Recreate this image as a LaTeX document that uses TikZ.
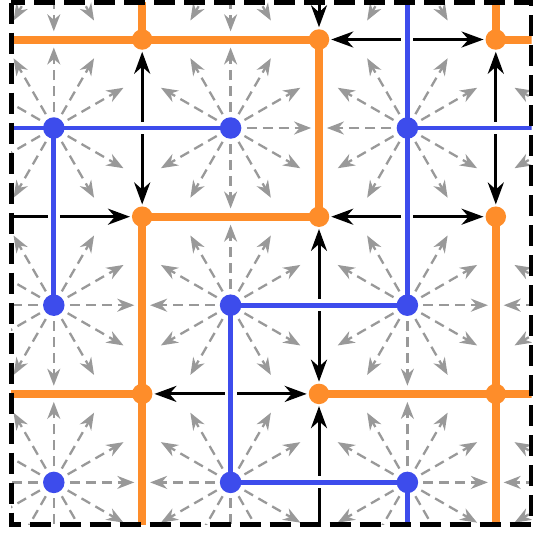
\documentclass[tikz,border=0pt]{standalone}
\usetikzlibrary{arrows.meta}
\definecolor{cblue}{RGB}{61,76,236}
\definecolor{corange}{RGB}{254,141,42}
\definecolor{cgray}{RGB}{153,153,153}
\pgfdeclarelayer{lgray}
\pgfdeclarelayer{lblack}
\pgfdeclarelayer{lblue}
\pgfdeclarelayer{lorange}
\pgfsetlayers{lgray,lblack,lblue,lorange,main}
\newcommand\skipdir[3]{\expandafter\gdef\csname skp-#1-#2-#3\endcsname{}}
\skipdir{-1}{0}{0}
\skipdir{0}{0}{180}
\skipdir{0}{0}{0}
\skipdir{1}{0}{180}
\skipdir{0}{0}{270}
\skipdir{0}{1}{90}
\skipdir{2}{0}{0}
\skipdir{3}{0}{180}
\skipdir{2}{-1}{270}
\skipdir{2}{0}{90}
\skipdir{2}{0}{270}
\skipdir{2}{1}{90}
\skipdir{1}{1}{0}
\skipdir{2}{1}{180}
\skipdir{1}{1}{270}
\skipdir{1}{2}{90}
\skipdir{1}{2}{0}
\skipdir{2}{2}{180}
\skipdir{2}{2}{270}
\skipdir{2}{3}{90}
\tikzset{
  grayarr/.style={draw=cgray, line width=2.3pt, dash pattern=on 10pt off 6pt,
    -{Stealth[length=17pt,width=13pt,inset=5.5pt]}},
  blackarr/.style={draw=black, line width=3pt,
    {Stealth[length=22pt,width=16pt,inset=7pt]}-{Stealth[length=22pt,width=16pt,inset=7pt]},
    shorten <=2pt, shorten >=2pt},
  oedge/.style={draw=corange, line width=8pt},
  bedge/.style={draw=cblue, line width=4.8pt, preaction={draw=white, line width=12pt}},
  onode/.style={circle, fill=corange, minimum size=20.5pt, inner sep=0pt, outer sep=0pt},
  bnode/.style={circle, fill=cblue, minimum size=21.5pt, inner sep=0pt, outer sep=0pt},
  frame/.style={draw=black, line width=5pt, dash pattern=on 21pt off 9pt},
}
\begin{document}
\begin{tikzpicture}[x=1pt,y=1pt]
\useasboundingbox (0,0) rectangle (533,-536);
\foreach \i in {-1,...,3}{\foreach \j in {-1,...,3}{
  \coordinate (b\i x\j) at ({53.8+176.8*\i},{-128-177.2*\j});
  \coordinate (o\i x\j) at ({142.2+176.8*\i},{-39.5-177.2*\j});
}}
\foreach \i in {0,1,2}{\foreach \j in {0,1,2}{
  \node[bnode] (B\i x\j) at (b\i x\j) {};
  \node[onode] (O\i x\j) at (o\i x\j) {};
}}
\begin{pgfonlayer}{lgray}
\clip (11,-2.5) rectangle (531.5,-524);
\foreach \i in {-1,...,3}{\foreach \j in {-1,...,3}{\foreach \a in {0,30,...,330}{
  \ifcsname skp-\i-\j-\a\endcsname\else
    \draw[grayarr] (b\i x\j) -- ++(\a:80.5);
  \fi
}}}
\end{pgfonlayer}
\begin{pgfonlayer}{lblack}
\clip (11,-2.5) rectangle (531.5,-524);
\draw[blackarr] (O0x0) -- (O0x1);
\draw[blackarr] (O1x0) -- (O2x0);
\draw[blackarr] (O2x0) -- (O2x1);
\draw[blackarr] (o-1x1) -- (O0x1);
\draw[blackarr] (O1x1) -- (O2x1);
\draw[blackarr] (O1x1) -- (O1x2);
\draw[blackarr] (O0x2) -- (O1x2);
\draw[blackarr] (O1x2) -- (o1x3);
\draw[blackarr] (o1x-1) -- (O1x0);
\end{pgfonlayer}
\begin{pgfonlayer}{lblue}
\clip (11,-2.5) rectangle (531.5,-524);
\draw[bedge] (b-1x0) -- (B0x0.center);
\draw[bedge] (B0x0.center) -- (B1x0.center);
\draw[bedge] (B0x0.center) -- (B0x1.center);
\draw[bedge] (B2x0.center) -- (b3x0);
\draw[bedge] (b2x-1) -- (B2x0.center);
\draw[bedge] (B2x0.center) -- (B2x1.center);
\draw[bedge] (B1x1.center) -- (B2x1.center);
\draw[bedge] (B1x1.center) -- (B1x2.center);
\draw[bedge] (B1x2.center) -- (B2x2.center);
\draw[bedge] (B2x2.center) -- (b2x3);
\end{pgfonlayer}
\begin{pgfonlayer}{lorange}
\clip (11,-2.5) rectangle (531.5,-524);
\draw[oedge] (O0x0.center) -- (o0x-1);
\draw[oedge] (o-1x0) -- (O0x0.center);
\draw[oedge] (O0x0.center) -- (O1x0.center);
\draw[oedge] (O1x0.center) -- (O1x1.center);
\draw[oedge] (O0x1.center) -- (O1x1.center);
\draw[oedge] (O0x1.center) -- (O0x2.center);
\draw[oedge] (O0x2.center) -- (o0x3);
\draw[oedge] (o-1x2) -- (O0x2.center);
\draw[oedge] (O1x2.center) -- (O2x2.center);
\draw[oedge] (O2x2.center) -- (o3x2);
\draw[oedge] (O2x1.center) -- (O2x2.center);
\draw[oedge] (O2x2.center) -- (o2x3);
\draw[oedge] (O2x0.center) -- (o3x0);
\draw[oedge] (o2x-1) -- (O2x0.center);
\end{pgfonlayer}
\draw[frame] (11,-2.5) rectangle (531.5,-524);
\end{tikzpicture}
\end{document}
